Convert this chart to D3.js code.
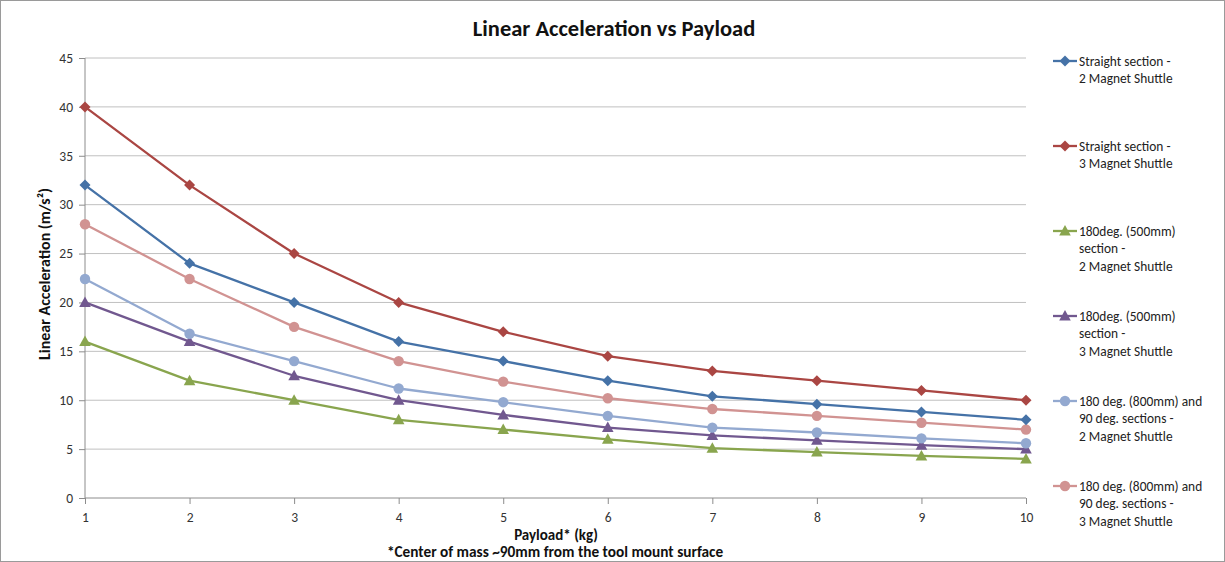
<!DOCTYPE html>
<html><head><meta charset="utf-8">
<script src="https://cdn.jsdelivr.net/npm/d3@7"></script>
<style>
html,body{margin:0;padding:0;background:#fff;}
svg{display:block;font-family:Carlito,Calibri,Lato,"Open Sans",sans-serif;}
</style></head>
<body><svg id="c" width="1225" height="562"></svg>
<script>
const payload = [1,2,3,4,5,6,7,8,9,10];
const seriesNames = [
  ["Straight section -","2 Magnet Shuttle"],
  ["Straight section -","3 Magnet Shuttle"],
  ["180deg. (500mm)","section -","2 Magnet Shuttle"],
  ["180deg. (500mm)","section -","3 Magnet Shuttle"],
  ["180 deg. (800mm) and","90 deg. sections -","2 Magnet Shuttle"],
  ["180 deg. (800mm) and","90 deg. sections -","3 Magnet Shuttle"]
];
const straight2 = [32,24,20,16,14,12,10.4,9.6,8.8,8];
const straight3 = [40,32,25,20,17,14.5,13,12,11,10];
const deg180_500_2 = [16,12,10,8,7,6,5.1,4.7,4.3,4];
const deg180_500_3 = [20,16,12.5,10,8.5,7.2,6.4,5.9,5.4,5];
const deg180_800_2 = [22.4,16.8,14,11.2,9.8,8.4,7.2,6.7,6.1,5.6];
const deg180_800_3 = [28,22.4,17.5,14,11.9,10.2,9.1,8.4,7.7,7];
const yTicks = [0,5,10,15,20,25,30,35,40,45];
const colors = ["#4572A7","#AA4643","#89A54E","#71588F","#93A9D0","#D19392"];
const markers = ["diamond","diamond","triangle","triangle","circle","circle"];
const allSeries = [straight2,straight3,deg180_500_2,deg180_500_3,deg180_800_2,deg180_800_3];

const svg = d3.select("#c");
svg.append("rect").attr("x",0.5).attr("y",0.5).attr("width",1224).attr("height",561)
  .attr("fill","#fff").attr("stroke","#9a9a9a");

const x = d3.scaleLinear().domain([1,10]).range([85,1026]);
const y = d3.scaleLinear().domain([0,45]).range([498,58]);

// gridlines
svg.append("g").selectAll("line").data(yTicks.filter(d=>d>0)).join("line")
  .attr("x1",85).attr("x2",1026).attr("y1",d=>y(d)).attr("y2",d=>y(d))
  .attr("stroke","#c0c0c0").attr("stroke-width",1);

// y axis
const ya = svg.append("g").attr("transform","translate(85,0)")
  .call(d3.axisLeft(y).tickValues(yTicks).tickSize(6).tickPadding(6));
ya.select(".domain").attr("stroke","#8c8c8c").attr("d","M0,58V498");
ya.selectAll(".tick line").attr("stroke","#8c8c8c");
ya.selectAll("text").attr("font-size",13.5).attr("fill","#333").attr("font-family","Carlito,Calibri,Lato,sans-serif");

// x axis
const xa = svg.append("g").attr("transform","translate(0,498)")
  .call(d3.axisBottom(x).tickValues(payload).tickSize(6).tickPadding(8).tickFormat(d3.format("d")));
xa.select(".domain").attr("stroke","#8c8c8c").attr("d","M85,0H1026");
xa.selectAll(".tick line").attr("stroke","#8c8c8c");
xa.selectAll("text").attr("font-size",13.5).attr("fill","#333").attr("font-family","Carlito,Calibri,Lato,sans-serif");

function marker(g, type, color){
  if(type==="circle") g.append("circle").attr("r",5.2).attr("fill",color);
  else if(type==="diamond") g.append("path").attr("d","M0,-5.5L5.5,0L0,5.5L-5.5,0Z").attr("fill",color);
  else g.append("path").attr("d","M0,-6L5.8,4.5L-5.8,4.5Z").attr("fill",color);
}

const line = d3.line().x((d,i)=>x(payload[i])).y(d=>y(d));
const drawOrder = [2,3,4,5,0,1];
drawOrder.forEach(si=>{
  const data = allSeries[si];
  svg.append("path").datum(data).attr("d",line).attr("fill","none")
    .attr("stroke",colors[si]).attr("stroke-width",2.3).attr("stroke-linejoin","round");
  data.forEach((v,i)=>{
    const g = svg.append("g").attr("transform",`translate(${x(payload[i])},${y(v)})`);
    marker(g, markers[si], colors[si]);
  });
});

// title and axis titles
svg.append("text").attr("x",614).attr("y",36).attr("text-anchor","middle")
  .attr("font-size",22.5).attr("font-weight","bold").attr("fill","#111").text("Linear Acceleration vs Payload");
svg.append("text").attr("transform","translate(50,274) rotate(-90)").attr("text-anchor","middle")
  .attr("font-size",16).attr("font-weight","bold").attr("fill","#111")
  .text("Linear Acceleration (m/s²)");
svg.append("text").attr("x",556).attr("y",540).attr("text-anchor","middle")
  .attr("font-size",15).attr("font-weight","bold").attr("fill","#111").text("Payload* (kg)");
svg.append("text").attr("x",555).attr("y",557).attr("text-anchor","middle")
  .attr("font-size",15.3).attr("font-weight","bold").attr("fill","#111")
  .text("*Center of mass ~90mm from the tool mount surface");

// legend
const legTop = [61,146,231,316,401,486];
seriesNames.forEach((lines,si)=>{
  const ly = legTop[si];
  svg.append("line").attr("x1",1053).attr("x2",1077).attr("y1",ly).attr("y2",ly)
    .attr("stroke",colors[si]).attr("stroke-width",2.3);
  const g = svg.append("g").attr("transform",`translate(1065,${ly})`);
  marker(g, markers[si], colors[si]);
  const t = svg.append("text").attr("x",1079).attr("y",ly+4.5).attr("font-size",13.4).attr("fill","#222");
  lines.forEach((s,k)=>t.append("tspan").attr("x",1079).attr("dy",k===0?0:17.5).text(s));
});
</script></body></html>
